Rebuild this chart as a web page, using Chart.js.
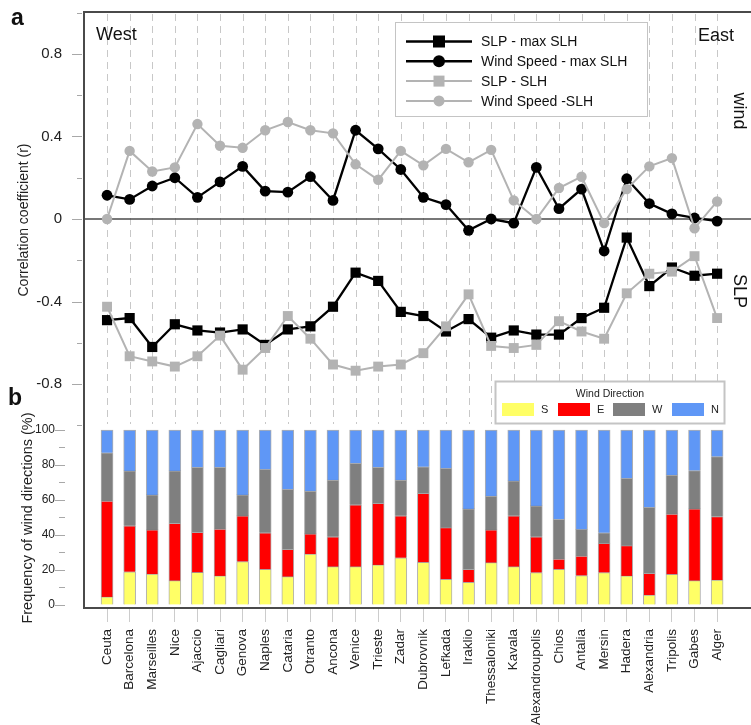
<!DOCTYPE html>
<html>
<head>
<meta charset="utf-8">
<script src="https://cdn.jsdelivr.net/npm/chart.js@4/dist/chart.umd.min.js"></script>
<style>
  html, body { margin: 0; padding: 0; background: #fff; }
  canvas { display: block; }
</style>
</head>
<body>
<canvas id="chart" width="751" height="725"></canvas>
<script>
// stations, west to east
const stations = ['Ceuta', 'Barcelona', 'Marseilles', 'Nice', 'Ajaccio', 'Cagliari', 'Genova', 'Naples',
    'Cataria', 'Otranto', 'Ancona', 'Venice', 'Trieste', 'Zadar', 'Dubrovnik', 'Lefkada', 'Iraklio',
    'Thessaloniki', 'Kavala', 'Alexandroupolis', 'Chios', 'Antalia', 'Mersin', 'Hadera', 'Alexandria',
    'Tripolis', 'Gabes', 'Alger'];

// panel a: correlation coefficients
const slpMax = [-0.49, -0.48, -0.62, -0.51, -0.54, -0.55, -0.535, -0.61, -0.535, -0.52, -0.425, -0.26, -0.30, -0.45,
    -0.47, -0.545, -0.485, -0.575, -0.54, -0.56, -0.56, -0.48, -0.43, -0.09, -0.325, -0.235, -0.275, -0.265];
const windMax = [0.115, 0.095, 0.16, 0.2, 0.105, 0.18, 0.255, 0.135, 0.13, 0.205, 0.09, 0.43, 0.34, 0.24,
    0.105, 0.07, -0.055, 0.0, -0.02, 0.25, 0.05, 0.145, -0.155, 0.195, 0.075, 0.025, 0.005, -0.01];
const slpSlh = [-0.425, -0.665, -0.69, -0.715, -0.665, -0.565, -0.73, -0.625, -0.47, -0.58, -0.705, -0.735, -0.715, -0.705,
    -0.65, -0.52, -0.365, -0.615, -0.625, -0.61, -0.495, -0.545, -0.58, -0.36, -0.265, -0.255, -0.18, -0.48];
const windSlh = [0.0, 0.33, 0.23, 0.25, 0.46, 0.355, 0.345, 0.43, 0.47, 0.43, 0.415, 0.265, 0.19, 0.33,
    0.26, 0.34, 0.275, 0.335, 0.09, 0.0, 0.15, 0.205, -0.02, 0.145, 0.255, 0.295, -0.045, 0.085];

// panel b: frequency of wind directions (%)
const dirS = [4.6, 19, 17.7, 13.9, 18.6, 16.6, 24.8, 20.4, 16.2, 29.1, 21.9, 21.9, 22.9, 27,
    24.4, 14.7, 13, 24.2, 21.9, 18.5, 20.4, 16.8, 18.5, 16.6, 5.7, 17.5, 13.9, 14.3];
const dirE = [54.8, 26.3, 25.2, 32.8, 22.9, 26.8, 26.1, 20.9, 15.6, 11.5, 17.1, 35.4, 35.2, 24,
    39.4, 29.5, 7.4, 18.7, 29.1, 20.5, 5.9, 11.2, 16.7, 17.3, 12.4, 34.5, 41, 36.2];
const dirW = [27.6, 31.3, 20, 29.9, 37.2, 35.3, 12, 36.2, 34.3, 24.5, 32.4, 23.7, 20.6, 20.4,
    15.2, 33.9, 34.5, 19.4, 19.9, 17.6, 22.7, 15.2, 6.1, 38.5, 37.7, 22.3, 21.9, 34.3];
const dirN = [13, 23.4, 37.1, 23.4, 21.3, 21.3, 37.1, 22.5, 33.9, 34.9, 28.6, 19, 21.3, 28.6,
    21, 21.9, 45.1, 37.7, 29.1, 43.4, 51, 56.8, 58.7, 27.6, 44.2, 25.7, 23.2, 15.2];

// tick values
const corrTicks = [0.8, 0.4, 0, -0.4, -0.8];
const corrTickLabels = ['0.8', '0.4', '0', '-0.4', '-0.8'];
const corrMinor = [1.0, 0.6, 0.2, -0.2, -0.6, -1.0];
const freqTicks = [0, 20, 40, 60, 80, 100];
const freqMinor = [10, 30, 50, 70, 90];

const FONT = '"Liberation Sans", Arial, sans-serif';
const BLACK = '#000000';
const GREY = '#b3b3b3';
const dirColors = { S: '#ffff66', E: '#ff0000', W: '#7f7f7f', N: '#5f97f6' };

const pts = arr => arr.map((v, i) => ({ x: i, y: v }));

function lineSet(label, data, color, style, radius, width) {
    return {
        type: 'line', label, data: pts(data), yAxisID: 'y',
        borderColor: color, backgroundColor: color, borderWidth: width,
        pointStyle: style, pointRadius: radius, pointBorderWidth: 0,
        pointBackgroundColor: color, tension: 0
    };
}

function barSet(label, data, color) {
    return {
        type: 'bar', label, data: pts(data), yAxisID: 'y2',
        backgroundColor: color, borderColor: 'rgba(110,110,110,0.55)', borderWidth: 1,
        barThickness: 12
    };
}

function marker(ctx, style, cx, cy, size, color) {
    ctx.fillStyle = color;
    if (style === 'rect') {
        ctx.fillRect(cx - size / 2, cy - size / 2, size, size);
    } else {
        ctx.beginPath();
        ctx.arc(cx, cy, size / 2, 0, Math.PI * 2);
        ctx.fill();
    }
}

// no label overhang padding, fixed width for both stacked y axes
function fitY(s) {
    s.width = 84;
    s.paddingTop = 0;
    s.paddingBottom = 0;
}

// x axis: fixed height, and let the plot run to the right edge
function fitX(s) {
    s.height = 117;
    s.paddingLeft = 0;
    s.paddingRight = 0;
}

// dashed guides, zero line, frame, tick marks, legends and labels
const decor = {
    id: 'decor',
    beforeDatasetsDraw(chart) {
        const { ctx, chartArea: a, scales: { x, y } } = chart;
        ctx.save();
        ctx.strokeStyle = '#c8c8c8';
        ctx.lineWidth = 1;
        ctx.setLineDash([7, 5]);
        stations.forEach((s, i) => {
            const px = Math.round(x.getPixelForValue(i)) + 0.5;
            ctx.beginPath();
            ctx.moveTo(px, a.top + 2);
            ctx.lineTo(px, y.bottom - 4);
            ctx.stroke();
        });
        ctx.setLineDash([]);
        const y0 = y.getPixelForValue(0);
        ctx.strokeStyle = '#4a4a4a';
        ctx.lineWidth = 1.6;
        ctx.beginPath();
        ctx.moveTo(a.left, y0);
        ctx.lineTo(a.right, y0);
        ctx.stroke();
        ctx.restore();
    },
    afterDraw(chart) {
        const { ctx, chartArea: a, scales: { y, y2 } } = chart;
        ctx.save();

        // frame
        ctx.strokeStyle = '#4a4a4a';
        ctx.lineWidth = 2;
        ctx.beginPath();
        ctx.moveTo(a.right, a.top);
        ctx.lineTo(a.left, a.top);
        ctx.lineTo(a.left, a.bottom);
        ctx.lineTo(a.right, a.bottom);
        ctx.stroke();

        // tick marks
        ctx.strokeStyle = '#a8a8a8';
        ctx.lineWidth = 1;
        const tick = (scale, v, x1, x2) => {
            const py = Math.round(scale.getPixelForValue(v)) + 0.5;
            ctx.beginPath(); ctx.moveTo(x1, py); ctx.lineTo(x2, py); ctx.stroke();
        };
        corrTicks.forEach(v => tick(y, v, a.left - 12, a.left - 2));
        corrMinor.forEach(v => tick(y, v, a.left - 7, a.left - 2));
        freqTicks.forEach(v => tick(y2, v, a.left - 29, a.left - 19));
        freqMinor.forEach(v => tick(y2, v, a.left - 25, a.left - 19));

        // panel letters and annotations
        ctx.fillStyle = '#111';
        ctx.font = 'bold 23px ' + FONT;
        ctx.textAlign = 'left';
        ctx.textBaseline = 'alphabetic';
        ctx.fillText('a', 11, 25);
        ctx.fillText('b', 8, 405);
        ctx.font = '18px ' + FONT;
        ctx.fillText('West', 96, 40);
        ctx.fillText('East', 698, 41);
        ctx.textAlign = 'center';
        ctx.textBaseline = 'middle';
        [['wind', 111], ['SLP', 291]].forEach(([t, cy]) => {
            ctx.save();
            ctx.translate(739, cy);
            ctx.rotate(Math.PI / 2);
            ctx.fillText(t, 0, 0);
            ctx.restore();
        });

        // legend for panel a
        ctx.fillStyle = '#fff';
        ctx.fillRect(395, 22, 252, 94);
        ctx.strokeStyle = '#c4c4c4';
        ctx.lineWidth = 1;
        ctx.strokeRect(395.5, 22.5, 252, 94);
        const rows = [
            ['SLP - max SLH', BLACK, 'rect', 12, 2.5],
            ['Wind Speed - max SLH', BLACK, 'circle', 12, 2.5],
            ['SLP - SLH', GREY, 'rect', 11, 2],
            ['Wind Speed -SLH', GREY, 'circle', 11, 2]
        ];
        ctx.font = '14px ' + FONT;
        ctx.textAlign = 'left';
        rows.forEach(([label, color, style, size, lw], k) => {
            const cy = 41.5 + k * 19.8;
            ctx.strokeStyle = color;
            ctx.lineWidth = lw;
            ctx.beginPath(); ctx.moveTo(406, cy); ctx.lineTo(472, cy); ctx.stroke();
            marker(ctx, style, 439, cy, size, color);
            ctx.fillStyle = '#111';
            ctx.fillText(label, 481, cy + 1);
        });

        // legend for panel b
        ctx.fillStyle = '#fff';
        ctx.fillRect(495, 381, 229, 42);
        ctx.strokeStyle = '#c4c4c4';
        ctx.strokeRect(495.5, 381.5, 229, 42);
        ctx.fillStyle = '#222';
        ctx.font = '10.5px ' + FONT;
        ctx.textAlign = 'center';
        ctx.fillText('Wind Direction', 610, 394);
        ctx.font = '11px ' + FONT;
        ctx.textAlign = 'left';
        [['S', 502], ['E', 558], ['W', 613], ['N', 672]].forEach(([d, sx]) => {
            ctx.fillStyle = dirColors[d];
            ctx.fillRect(sx, 403, 32, 13);
            ctx.fillStyle = '#222';
            ctx.fillText(d, sx + 39, 410);
        });
        ctx.restore();
    }
};

const ctx = document.getElementById('chart').getContext('2d');
new Chart(ctx, {
    type: 'bar',
    data: {
        datasets: [
            lineSet('SLP - SLH', slpSlh, GREY, 'rect', 7, 2),
            lineSet('Wind Speed -SLH', windSlh, GREY, 'circle', 5.2, 2),
            lineSet('SLP - max SLH', slpMax, BLACK, 'rect', 7.2, 2.3),
            lineSet('Wind Speed - max SLH', windMax, BLACK, 'circle', 5.4, 2.3),
            barSet('S', dirS, dirColors.S),
            barSet('E', dirE, dirColors.E),
            barSet('W', dirW, dirColors.W),
            barSet('N', dirN, dirColors.N)
        ]
    },
    options: {
        responsive: false,
        animation: false,
        layout: { autoPadding: false, padding: { top: 12, right: 0, left: 0, bottom: 0 } },
        plugins: { legend: { display: false }, tooltip: { enabled: false } },
        scales: {
            x: {
                type: 'linear', min: -1.02, max: 28.5, offset: false, stacked: true,
                afterBuildTicks: s => { s.ticks = stations.map((n, i) => ({ value: i })); },
                afterFit: fitX,
                ticks: {
                    autoSkip: false, minRotation: 90, maxRotation: 90, padding: 7,
                    color: '#222', font: { family: FONT, size: 13.5 },
                    callback: v => stations[v]
                },
                grid: { drawOnChartArea: false, offset: false, tickLength: 14, color: '#cccccc' },
                border: { display: false }
            },
            // bottom panel first: the stacked left boxes are laid out in reverse
            y2: {
                position: 'left', stack: 'panels', stackWeight: 180, stacked: true,
                min: -1.714, max: 101.14,
                afterBuildTicks: s => { s.ticks = freqTicks.map(v => ({ value: v })); },
                afterFit: fitY,
                ticks: {
                    padding: 19, color: '#222', font: { family: FONT, size: 12 },
                    callback: v => String(v)
                },
                grid: { drawOnChartArea: false, tickLength: 10, tickColor: 'rgba(0,0,0,0)' },
                border: { display: false },
                title: {
                    display: true, text: 'Frequency of wind directions (%)', color: '#222',
                    font: { family: FONT, size: 14.5 }, padding: { top: 19, bottom: 0 }
                }
            },
            y: {
                position: 'left', stack: 'panels', stackWeight: 416,
                min: -1.0126, max: 1.003,
                afterBuildTicks: s => { s.ticks = corrTicks.map(v => ({ value: v })); },
                afterFit: fitY,
                ticks: {
                    padding: 12, color: '#222', font: { family: FONT, size: 15 },
                    callback: v => corrTickLabels[corrTicks.indexOf(v)]
                },
                grid: { drawOnChartArea: false, tickLength: 10, tickColor: 'rgba(0,0,0,0)' },
                border: { display: false },
                title: {
                    display: true, text: 'Correlation coefficient (r)', color: '#222',
                    font: { family: FONT, size: 14 }, padding: { top: 16, bottom: 0 }
                }
            }
        }
    },
    plugins: [decor]
});
</script>
</body>
</html>
